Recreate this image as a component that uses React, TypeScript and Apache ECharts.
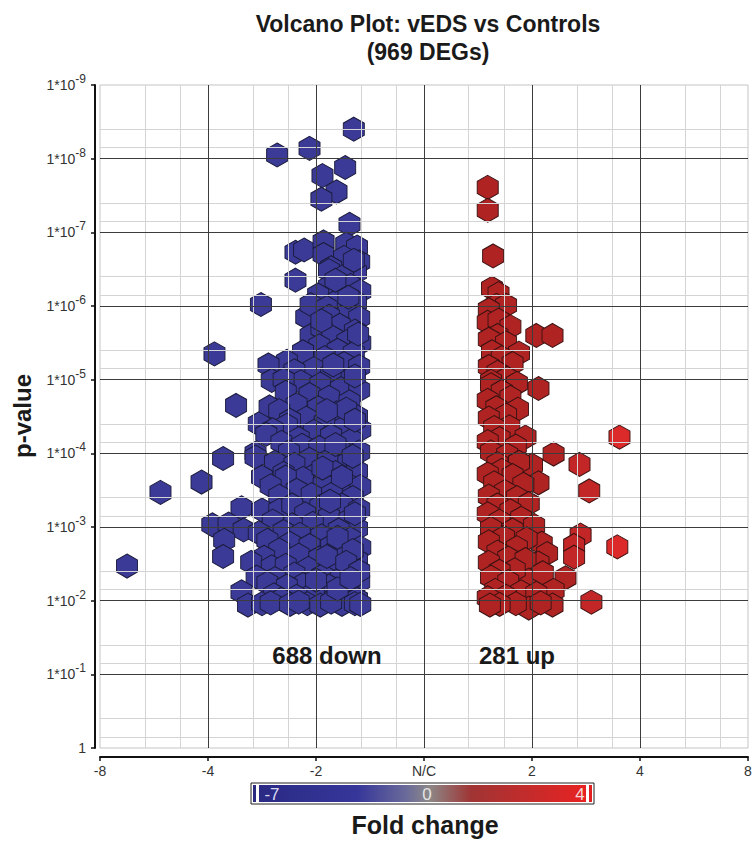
import React, { useEffect, useRef } from 'react';
import * as echarts from 'echarts';

// ---------- data (log2 fold change, -log10 p-value) ----------
const downRegulated: number[][] = [
  [-2.75, 2.47], [-2.44, 3.47], [-2.06, 3.61], [-1.86, 3.93], [-1.94, 5.35], [-1.74, 4.65], [-1.51, 6.02],
  [-1.36, 8.05], [-1.06, 8.14], [-0.65, 8.40], [-0.94, 7.77], [-0.73, 7.88], [-0.81, 7.55], [-0.95, 7.45], [-0.69, 7.11],
  [-1.19, 6.73], [-1.11, 6.76], [-1.19, 6.35], [-1.09, 5.85], [-1.05, 5.60],
  [-0.93, 6.87], [-0.72, 6.84], [-0.62, 6.80],
  [-0.93, 6.70], [-0.74, 6.66], [-0.60, 6.60], [-0.86, 6.52],
  [-0.88, 6.48], [-0.63, 6.46], [-0.75, 6.40],
  [-0.88, 6.26], [-0.68, 6.28], [-0.59, 6.20], [-0.98, 6.15],
  [-0.79, 6.08], [-0.63, 6.05], [-1.05, 6.02], [-0.90, 5.98],
  [-0.70, 5.90], [-0.88, 5.86], [-0.60, 5.84],
  [-0.78, 5.74], [-0.95, 5.70], [-0.64, 5.66],
  [-0.85, 5.58], [-0.71, 5.52], [-0.59, 5.50], [-0.97, 5.46],
  [-0.80, 5.40], [-0.65, 5.36], [-1.12, 5.38], [-0.92, 5.30],
  [-1.27, 5.25], [-1.44, 5.20], [-0.74, 5.22], [-0.60, 5.18], [-1.02, 5.15], [-1.20, 5.12],
  [-0.86, 5.08], [-0.67, 5.02], [-1.41, 4.99], [-1.14, 4.97], [-1.30, 5.00], [-0.96, 4.94],
  [-0.77, 4.88], [-0.60, 4.86], [-1.28, 4.83], [-1.06, 4.80], [-0.88, 4.76],
  [-1.43, 4.63], [-0.69, 4.70], [-1.18, 4.66], [-0.98, 4.62], [-1.34, 4.58],
  [-0.81, 4.55], [-0.62, 4.50], [-1.09, 4.48], [-1.24, 4.45], [-0.92, 4.42],
  [-1.53, 4.40], [-1.27, 4.38], [-0.73, 4.36], [-0.59, 4.32], [-1.02, 4.30], [-1.40, 4.32],
  [-1.46, 4.26], [-0.86, 4.24], [-1.16, 4.20], [-0.67, 4.18], [-1.32, 4.15],
  [-1.13, 4.11], [-0.97, 4.08], [-0.78, 4.05], [-0.60, 4.02], [-1.56, 4.00], [-1.25, 4.02],
  [-1.56, 3.95], [-1.06, 3.92], [-0.89, 3.90], [-0.70, 3.88], [-1.38, 3.88], [-1.20, 3.85],
  [-0.62, 3.76], [-0.82, 3.74], [-1.00, 3.72], [-1.30, 3.73], [-1.12, 3.66],
  [-1.50, 3.68], [-1.28, 3.68], [-0.73, 3.60], [-0.93, 3.58], [-0.59, 3.55], [-1.42, 3.56],
  [-1.18, 3.50], [-1.04, 3.44], [-0.85, 3.45], [-0.66, 3.40], [-1.34, 3.42],
  [-1.69, 3.26], [-1.50, 3.23], [-1.34, 3.23], [-1.22, 3.30], [-0.76, 3.30], [-0.96, 3.28], [-0.60, 3.24], [-1.10, 3.18],
  [-1.96, 3.03], [-1.81, 3.04], [-1.22, 3.03], [-0.88, 3.14], [-0.69, 3.10], [-1.40, 3.08], [-1.03, 3.05], [-0.62, 2.98],
  [-1.67, 2.96], [-1.53, 2.92], [-1.30, 2.94], [-0.79, 2.96], [-1.15, 2.90], [-0.95, 2.88],
  [-1.85, 2.82], [-1.45, 2.82], [-0.68, 2.84], [-1.24, 2.78], [-1.06, 2.75], [-0.86, 2.74], [-0.59, 2.72],
  [-1.34, 2.69], [-1.86, 2.60], [-1.48, 2.59], [-0.74, 2.64], [-1.16, 2.62], [-0.97, 2.58], [-1.60, 2.52], [-0.62, 2.55],
  [-1.41, 2.46], [-1.28, 2.48], [-0.84, 2.48], [-1.07, 2.44], [-0.68, 2.40], [-1.20, 2.36], [-0.94, 2.34],
  [-1.38, 2.30], [-1.55, 2.32], [-0.77, 2.30], [-0.60, 2.26], [-1.12, 2.22], [-1.45, 2.24], [-1.27, 2.20], [-0.88, 2.20],
  [-1.39, 2.08], [-1.69, 2.12], [-1.02, 2.10], [-0.70, 2.12], [-1.18, 2.06], [-0.82, 2.04], [-0.62, 2.02], [-1.32, 2.02],
  [-1.63, 1.94], [-1.50, 1.96], [-1.42, 1.97], [-1.24, 1.95], [-1.08, 1.96], [-0.96, 1.94], [-0.76, 1.95], [-0.64, 1.96],
  [-0.59, 1.95], [-0.86, 1.98], [-1.16, 1.98],
  [-0.65, 6.62], [-0.82, 6.35], [-0.70, 6.12], [-0.95, 5.80], [-0.61, 5.62], [-0.84, 5.20], [-0.64, 5.05], [-0.72, 4.60],
  [-0.90, 4.58], [-0.64, 4.45], [-0.82, 4.12], [-0.66, 3.96], [-0.94, 3.80], [-0.76, 3.68], [-0.87, 3.35], [-0.64, 3.18],
  [-0.80, 2.86], [-0.66, 2.68], [-0.90, 2.60], [-0.72, 2.52], [-0.60, 2.40], [-0.80, 2.16], [-1.00, 2.28], [-0.68, 2.30],
];

const upRegulated: number[][] = [
  [0.59, 7.61], [0.59, 7.30], [0.64, 6.68],
  [0.63, 6.24], [0.69, 6.17],
  [0.67, 6.01], [0.76, 6.01], [0.60, 5.95],
  [0.59, 5.78], [0.69, 5.81], [0.80, 5.72],
  [1.04, 5.60], [1.19, 5.60], [0.68, 5.60], [0.60, 5.55], [0.76, 5.50],
  [0.88, 5.36], [0.63, 5.38], [0.72, 5.30], [0.82, 5.22], [0.60, 5.18],
  [0.68, 5.10], [0.77, 5.02], [0.62, 4.98], [0.86, 4.95],
  [1.06, 4.88], [0.62, 4.93], [0.72, 4.84], [0.80, 4.76], [0.59, 4.72],
  [0.67, 4.62], [0.87, 4.60], [0.76, 4.52], [0.60, 4.48],
  [0.79, 4.36], [0.94, 4.22], [0.65, 4.35], [0.70, 4.20], [0.59, 4.16], [0.85, 4.10], [1.81, 4.22],
  [1.20, 3.99], [0.62, 4.02], [0.77, 3.98], [1.00, 3.84], [1.44, 3.85], [0.68, 3.86], [0.88, 3.88],
  [0.72, 3.77], [0.59, 3.72], [0.82, 3.70], [1.06, 3.60], [0.65, 3.60], [0.92, 3.58], [1.53, 3.49],
  [0.75, 3.48], [0.60, 3.42], [0.86, 3.40], [0.68, 3.30], [0.97, 3.32], [0.80, 3.22], [0.59, 3.18],
  [0.90, 3.12], [0.70, 3.08], [1.02, 3.02], [0.62, 2.98], [0.82, 2.96],
  [1.09, 2.78], [1.45, 2.89], [1.39, 2.75], [1.79, 2.73], [0.74, 2.86], [0.95, 2.84], [0.60, 2.80], [0.86, 2.72],
  [1.14, 2.64], [1.39, 2.59], [1.06, 2.51], [0.68, 2.66], [0.78, 2.58], [0.94, 2.56], [0.60, 2.52],
  [1.31, 2.31], [0.97, 2.28], [0.84, 2.42], [0.70, 2.40], [1.10, 2.38], [0.62, 2.32], [0.78, 2.26],
  [1.20, 2.14], [0.90, 2.12], [0.66, 2.14], [1.04, 2.10], [0.76, 2.06], [0.59, 2.04],
  [1.19, 1.94], [1.55, 1.98], [0.97, 1.90], [0.85, 1.96], [0.70, 1.95], [0.61, 1.94], [1.08, 1.97],
];

const xTickLabels = ['-8', '-4', '-2', 'N/C', '2', '4', '8'];
const yTickExponents = [0, 1, 2, 3, 4, 5, 6, 7, 8, 9];
const colorBarLabels = ['-7', '0', '4'];
const titleLines = ['Volcano Plot: vEDS vs Controls', '(969 DEGs)'];
const countLabels = ['688 down', '281 up'];

// ---------- styles ----------
const FONT = '"Liberation Sans", Arial, Helvetica, sans-serif';
const HEX = 'path://M0,-1L0.866,-0.5L0.866,0.5L0,1L-0.866,0.5L-0.866,-0.5Z';
const X_MIN = -3, X_MAX = 3, Y_MIN = 0, Y_MAX = 9;
const X_MINOR_FRACTIONS = [0.415, 0.74];
const Y_MINOR_FRACTIONS = [0.15, 0.4];
const MAJOR_COLOR = '#3c3c3c';
const MINOR_COLOR = '#d4d4d4';

function txt(text: string, x: number, y: number, size: number, opts: any = {}) {
  return {
    type: 'text',
    x,
    y,
    rotation: opts.rotation || 0,
    z: 200,
    zlevel: 0,
    style: {
      text,
      fontFamily: FONT,
      fontSize: size,
      fontWeight: opts.weight || 'bold',
      fill: opts.fill || '#1a1a1a',
      align: opts.align || 'center',
      verticalAlign: 'middle',
      textAlign: opts.align || 'center',
      textVerticalAlign: 'middle',
    },
  };
}

export default function App() {
  const ref = useRef<HTMLDivElement>(null);

  useEffect(() => {
    if (!ref.current) return;
    const chart = echarts.init(ref.current, undefined, { renderer: 'svg' });

    const gridLines: any[] = [];
    for (let k = X_MIN; k < X_MAX; k++) {
      X_MINOR_FRACTIONS.forEach((f) => gridLines.push({ xAxis: k + f, lineStyle: { color: MINOR_COLOR, width: 1, type: 'solid' } }));
    }
    for (let k = Y_MIN; k < Y_MAX; k++) {
      Y_MINOR_FRACTIONS.forEach((f) => gridLines.push({ yAxis: k + f, lineStyle: { color: MINOR_COLOR, width: 1, type: 'solid' } }));
    }
    for (let k = X_MIN + 1; k < X_MAX; k++) {
      gridLines.push({ xAxis: k, lineStyle: { color: MAJOR_COLOR, width: 1, type: 'solid' } });
    }
    for (let k = Y_MIN + 1; k < Y_MAX; k++) {
      gridLines.push({ yAxis: k, lineStyle: { color: MAJOR_COLOR, width: 1, type: 'solid' } });
    }

    const barX = 251, barY = 783, barW = 343, barH = 21;

    const option: any = {
      animation: false,
      grid: { left: 100, right: 7, top: 85, bottom: 93, show: true, borderColor: '#c4c4c4', borderWidth: 1, backgroundColor: '#fff' },
      xAxis: {
        type: 'value', min: X_MIN, max: X_MAX, interval: 1, offset: 9,
        axisLine: { show: true, onZero: false, lineStyle: { color: '#111', width: 2 } },
        axisTick: { show: true, length: 4, lineStyle: { color: '#111', width: 1.5 } },
        axisLabel: {
          color: '#333', fontSize: 14, fontFamily: FONT, margin: 7,
          formatter: (v: number) => xTickLabels[Math.round(v) - X_MIN] ?? '',
        },
        splitLine: { show: false },
      },
      yAxis: {
        type: 'value', min: Y_MIN, max: Y_MAX, interval: 1, offset: 5,
        axisLine: { show: true, onZero: false, lineStyle: { color: '#111', width: 2 } },
        axisTick: { show: true, length: 4, lineStyle: { color: '#111', width: 1.5 } },
        axisLabel: {
          margin: 9,
          formatter: (v: number) => {
            const e = yTickExponents[Math.round(v)];
            return e === 0 ? '{n|1}' : '{n|1*10}{s|-' + e + '}';
          },
          rich: {
            n: { fontSize: 14, lineHeight: 24, color: '#333', fontFamily: FONT, verticalAlign: 'middle' },
            s: { fontSize: 12, lineHeight: 12, color: '#333', fontFamily: FONT, verticalAlign: 'top' },
          },
        },
        splitLine: { show: false },
      },
      series: [
        {
          type: 'line', data: [], silent: true, z: 1,
          markLine: { silent: true, symbol: ['none', 'none'], label: { show: false }, animation: false, data: gridLines },
        },
        {
          type: 'scatter', name: 'down', data: downRegulated, z: 3,
          symbol: HEX, symbolSize: [21, 24],
          itemStyle: { color: '#3b3b97', borderColor: '#1c1c3e', borderWidth: 1, opacity: 1 },
        },
        {
          type: 'scatter', name: 'up', data: upRegulated, z: 3,
          symbol: HEX, symbolSize: [21, 24],
          itemStyle: {
            color: (p: any) => (p.value[0] > 1.7 ? '#dc2a2a' : p.value[0] > 1.35 ? '#c22626' : '#b02323'),
            borderColor: '#3c1212', borderWidth: 1, opacity: 1,
          },
        },
      ],
      graphic: [
        txt(titleLines[0], 428, 24, 23),
        txt(titleLines[1], 428, 52, 23),
        txt('p-value', 22, 416, 24, { rotation: Math.PI / 2 }),
        txt(countLabels[0], 327, 655, 24),
        txt(countLabels[1], 517, 655, 24),
        txt('Fold change', 425, 825, 25),
        { type: 'rect', z: 100, shape: { x: barX, y: barY, width: barW, height: barH }, style: { fill: '#fff', stroke: '#222', lineWidth: 1 } },
        { type: 'rect', z: 101, shape: { x: barX + 2, y: barY + 2, width: 3, height: barH - 4 }, style: { fill: '#2a2a80' } },
        {
          type: 'rect', z: 101, shape: { x: barX + 8, y: barY + 2, width: barW - 16, height: barH - 4 },
          style: {
            fill: new echarts.graphic.LinearGradient(0, 0, 1, 0, [
              { offset: 0, color: '#2a2a84' },
              { offset: 0.3, color: '#36369a' },
              { offset: 0.45, color: '#6a6a9a' },
              { offset: 0.52, color: '#8c8888' },
              { offset: 0.65, color: '#a03434' },
              { offset: 1, color: '#e82222' },
            ]),
          },
        },
        { type: 'rect', z: 101, shape: { x: barX + barW - 5, y: barY + 2, width: 3, height: barH - 4 }, style: { fill: '#e02020' } },
        txt(colorBarLabels[0], 272, barY + barH / 2 + 1, 17, { weight: 'normal', fill: '#d8d8f0' }),
        txt(colorBarLabels[1], 427, barY + barH / 2 + 1, 17, { weight: 'normal', fill: '#e4e4e4' }),
        txt(colorBarLabels[2], 580, barY + barH / 2 + 1, 17, { weight: 'normal', fill: '#f4dada' }),
      ],
    };

    chart.setOption(option);
    return () => chart.dispose();
  }, []);

  return (
    <div style={{ position: 'absolute', left: 0, top: 0, width: 755, height: 841, background: '#fff' }}>
      <div ref={ref} style={{ width: 755, height: 841 }} />
    </div>
  );
}
